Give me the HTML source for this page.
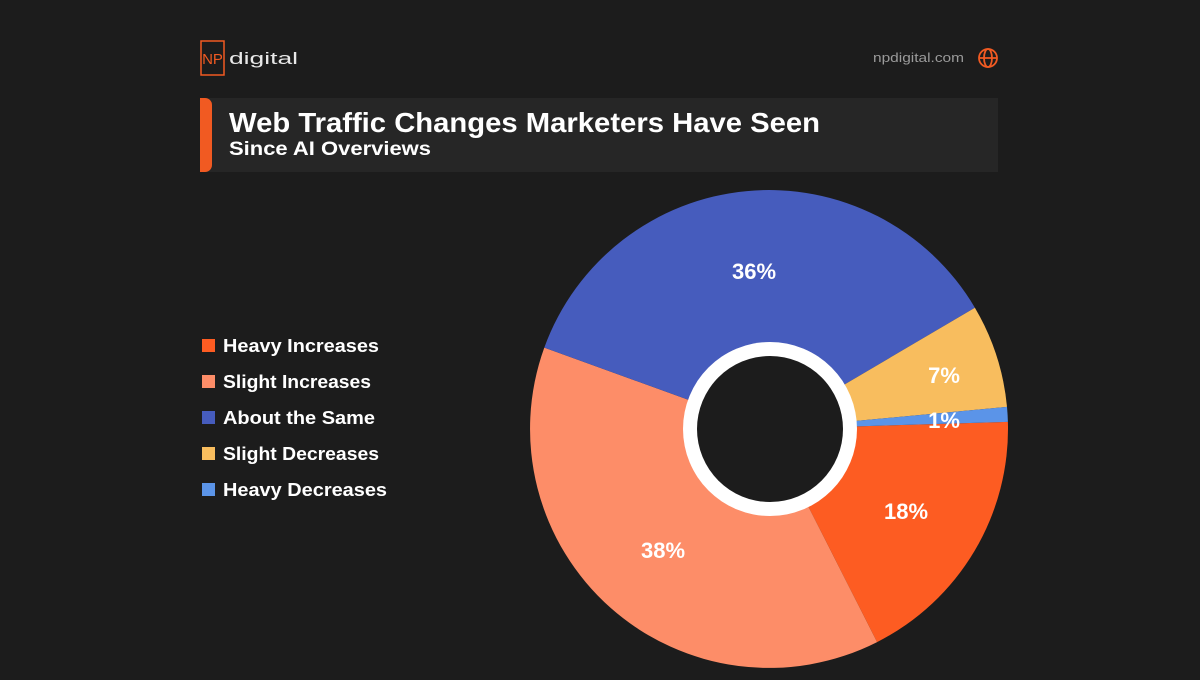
<!DOCTYPE html>
<html><head><meta charset="utf-8"><style>
body{margin:0;width:1200px;height:675px;background:#1c1c1c;overflow:hidden;font-family:"Liberation Sans",sans-serif;}
</style></head><body>
<svg width="1200" height="675" viewBox="0 0 1200 675" xmlns="http://www.w3.org/2000/svg" font-family="Liberation Sans, sans-serif">
<rect width="1200" height="675" fill="#1c1c1c"/>
<rect x="201" y="41" width="23" height="34" fill="none" stroke="#f15a22" stroke-width="1.5"/>
<text x="212.5" y="64" fill="#f15a22" font-size="15" text-anchor="middle">NP</text>
<text x="229" y="64" fill="#e8e8e8" font-size="17" textLength="69" lengthAdjust="spacingAndGlyphs">digital</text>
<text x="873" y="62" fill="#9a9a9a" font-size="13" textLength="91" lengthAdjust="spacingAndGlyphs">npdigital.com</text>
<g stroke="#f15a22" stroke-width="1.8" fill="none"><circle cx="988" cy="58" r="9"/><ellipse cx="988" cy="58" rx="4" ry="9"/><line x1="979" y1="58" x2="997" y2="58"/></g>
<rect x="200" y="98" width="798" height="74" fill="#262626"/>
<path d="M200 98 h5 a7 7 0 0 1 7 7 v60 a7 7 0 0 1 -7 7 h-5z" fill="#f15a22"/>
<text x="229" y="132" fill="#fff" font-size="28" font-weight="bold" textLength="591" lengthAdjust="spacingAndGlyphs">Web Traffic Changes Marketers Have Seen</text>
<text x="229" y="155" fill="#fff" font-size="19" font-weight="bold" textLength="202" lengthAdjust="spacingAndGlyphs">Since AI Overviews</text>
<g font-size="18" font-weight="bold" fill="#fff">
<rect x="202" y="339" width="13" height="13" fill="#fd5c22"/><text x="223" y="352" textLength="156" lengthAdjust="spacingAndGlyphs">Heavy Increases</text>
<rect x="202" y="375" width="13" height="13" fill="#fd8d68"/><text x="223" y="388" textLength="148" lengthAdjust="spacingAndGlyphs">Slight Increases</text>
<rect x="202" y="411" width="13" height="13" fill="#465cbd"/><text x="223" y="424" textLength="152" lengthAdjust="spacingAndGlyphs">About the Same</text>
<rect x="202" y="447" width="13" height="13" fill="#f8bd5e"/><text x="223" y="460" textLength="156" lengthAdjust="spacingAndGlyphs">Slight Decreases</text>
<rect x="202" y="483" width="13" height="13" fill="#5b94e8"/><text x="223" y="496" textLength="164" lengthAdjust="spacingAndGlyphs">Heavy Decreases</text>
</g>
<g>
<path d="M769 429 L1007.9 421.9 A239 239 0 0 1 877.1 642.1Z" fill="#fd5c22"/>
<path d="M769 429 L877.1 642.1 A239 239 0 0 1 544.3 347.6Z" fill="#fd8d68"/>
<path d="M769 429 L544.3 347.6 A239 239 0 0 1 974.9 307.7Z" fill="#465cbd"/>
<path d="M769 429 L974.9 307.7 A239 239 0 0 1 1007.0 406.9Z" fill="#f8bd5e"/>
<path d="M769 429 L1007.0 406.9 A239 239 0 0 1 1007.9 421.9Z" fill="#5b94e8"/>
<circle cx="770" cy="429" r="87" fill="#fff"/>
<circle cx="770" cy="429" r="73" fill="#1c1c1c"/>
</g>
<g font-size="22" font-weight="bold" fill="#fff" text-anchor="middle">
<text x="754" y="279">36%</text>
<text x="944" y="383">7%</text>
<text x="944" y="428">1%</text>
<text x="906" y="519">18%</text>
<text x="663" y="558">38%</text>
</g>
</svg>
</body></html>
